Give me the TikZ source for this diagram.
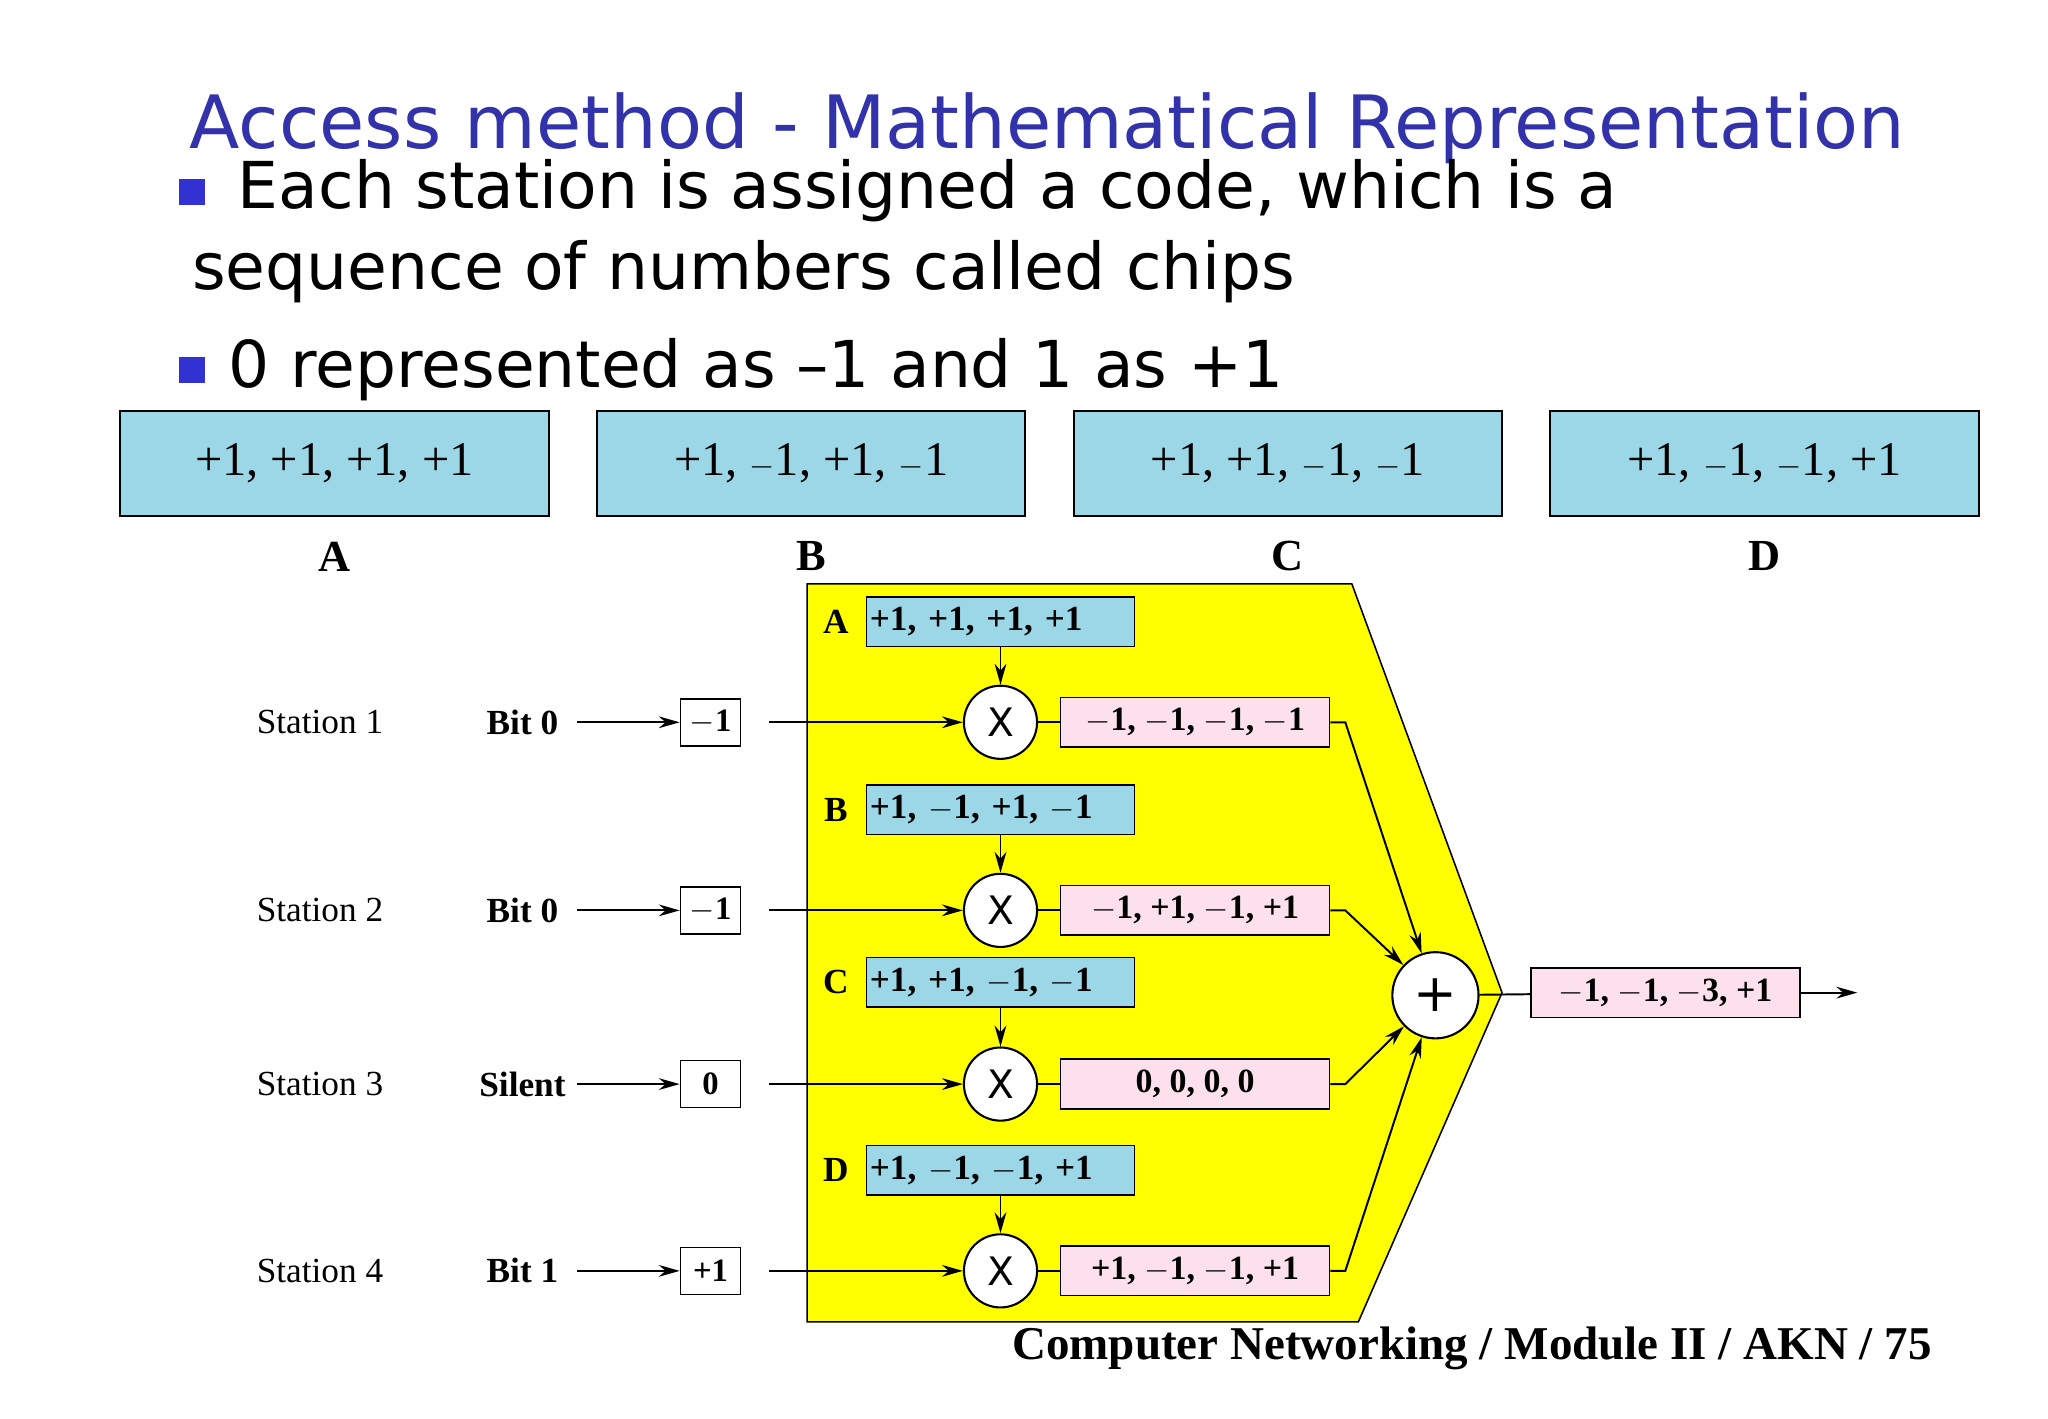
\documentclass[tikz,border=0pt]{standalone}
\usepackage{fontspec}
\setmainfont{Liberation Serif}
\newfontfamily\vsans{DejaVu Sans}
\usetikzlibrary{arrows.meta}
\definecolor{ttl}{RGB}{50,50,170}
\definecolor{bul}{RGB}{50,50,210}
\definecolor{lblue}{RGB}{155,215,230}
\definecolor{lpink}{RGB}{252,225,236}
\definecolor{yel}{RGB}{255,255,0}
\tikzset{
 topbox/.style={draw,line width=1.5pt,fill=lblue,minimum width=328pt,minimum height=80pt,font=\fontsize{37}{39}\selectfont},
 codebox/.style={draw,line width=1.2pt,fill=lblue,minimum width=205pt,minimum height=38pt,inner sep=1pt,font=\bfseries\fontsize{27}{29}\selectfont},
 prodbox/.style={draw,line width=1.2pt,fill=lpink,minimum width=206pt,minimum height=38pt,inner sep=1pt,font=\bfseries\fontsize{26}{28}\selectfont},
 sbox/.style={draw,line width=1.2pt,fill=white,minimum width=46pt,minimum height=36pt,inner sep=1pt,font=\bfseries\fontsize{25}{27}\selectfont},
 mult/.style={circle,draw,line width=1.6pt,fill=white,minimum size=56pt,inner sep=0pt,font=\vsans\fontsize{30}{32}\selectfont},
 lab/.style={font=\fontsize{27}{29}\selectfont},
 blab/.style={font=\bfseries\fontsize{27}{29}\selectfont},
 arr/.style={-{Stealth[length=16pt,width=9pt]},line width=1.5pt},
}
\begin{document}
\begin{tikzpicture}[x=1pt,y=-1pt]
\useasboundingbox (0,0) rectangle (1568,1086);
\fill[white] (0,0) rectangle (1568,1086);
\node[anchor=base west,text=ttl,font=\vsans\fontsize{56.3}{58}\selectfont,inner sep=0] (t) at (145,114) {Access method - Mathematical Representation};
\fill[bul] (137,137) rectangle (157,157);
\node[anchor=base west,font=\vsans\fontsize{49.5}{52}\selectfont,inner sep=0] (b1) at (182,160) {Each station is assigned a code, which is a};
\node[anchor=base west,font=\vsans\fontsize{49.5}{52}\selectfont,inner sep=0] (b1b) at (147,222) {sequence of numbers called chips};
\fill[bul] (137,273) rectangle (157,293);
\node[anchor=base west,font=\vsans\fontsize{49.5}{52}\selectfont,inner sep=0] (b2) at (175,297) {0 represented as –1 and 1 as +1};
\foreach \x/\t/\l in {256/{+1, +1, +1, +1}/A, 621/{+1, $-$1, +1, $-$1}/B, 986/{+1, +1, $-$1, $-$1}/C, 1351/{+1, $-$1, $-$1, +1}/D}{
 \node[topbox] (top\l) at (\x,355) {\t};
 \node[font=\bfseries\fontsize{34}{36}\selectfont] (tl\l) at (\x,426) {\l};
}
\draw[line width=1.2pt,fill=yel] (618,447) -- (1035,447) -- (1150,760) -- (1040,1012) -- (618,1012) -- cycle;
\foreach \i/\y/\cy/\L/\code/\prod/\st/\bit/\val in {
 1/553/476/A/{+1, +1, +1, +1}/{$-$1, $-$1, $-$1, $-$1}/Station 1/Bit 0/$-$1,
 2/697/620/B/{+1, $-$1, +1, $-$1}/{$-$1, +1, $-$1, +1}/Station 2/Bit 0/$-$1,
 3/830/752/C/{+1, +1, $-$1, $-$1}/{0, 0, 0, 0}/Station 3/Silent/0,
 4/973/896/D/{+1, $-$1, $-$1, +1}/{+1, $-$1, $-$1, +1}/Station 4/Bit 1/+1}{
 \node[codebox,text width=200pt,align=left] (c\i) at (766,\cy) {\code};
 \node[blab] (cl\i) at (640,\cy) {\L};
 \node[mult] (m\i) at (766,\y) {X};
 \node[prodbox] (p\i) at (915,\y) {\prod};
 \node[lab] (st\i) at (245,\y) {\st};
 \node[blab] (bt\i) at (400,\y) {\bit};
 \node[sbox] (v\i) at (544,\y) {\val};
 \coordinate (s\i) at (589,\y);
 \coordinate (k\i) at (1030,\y);
 \coordinate (a\i) at (442,\y);
 \draw[arr] (a\i) -- (v\i.west);
 \draw[arr] (c\i) -- (m\i);
 \draw[arr] (s\i) -- (m\i);
 \draw[line width=1.5pt] (m\i) -- (p\i);
}
\node[mult,minimum size=66pt,font=\vsans\fontsize{40}{42}\selectfont] (sum) at (1099,762) {+};
\foreach \i in {1,2,3,4}{ \draw[arr] (p\i.east) -- (k\i) -- (sum); }
\node[prodbox] (out) at (1275,760) {$-$1, $-$1, $-$3, +1};
\coordinate (end) at (1422,760);
\draw[line width=1.5pt] (sum) -- (out);
\draw[arr] (out) -- (end);
\node[font=\bfseries\fontsize{36}{38}\selectfont] (ft) at (1127,1032) {Computer Networking / Module II / AKN / 75};
\end{tikzpicture}
\end{document}
